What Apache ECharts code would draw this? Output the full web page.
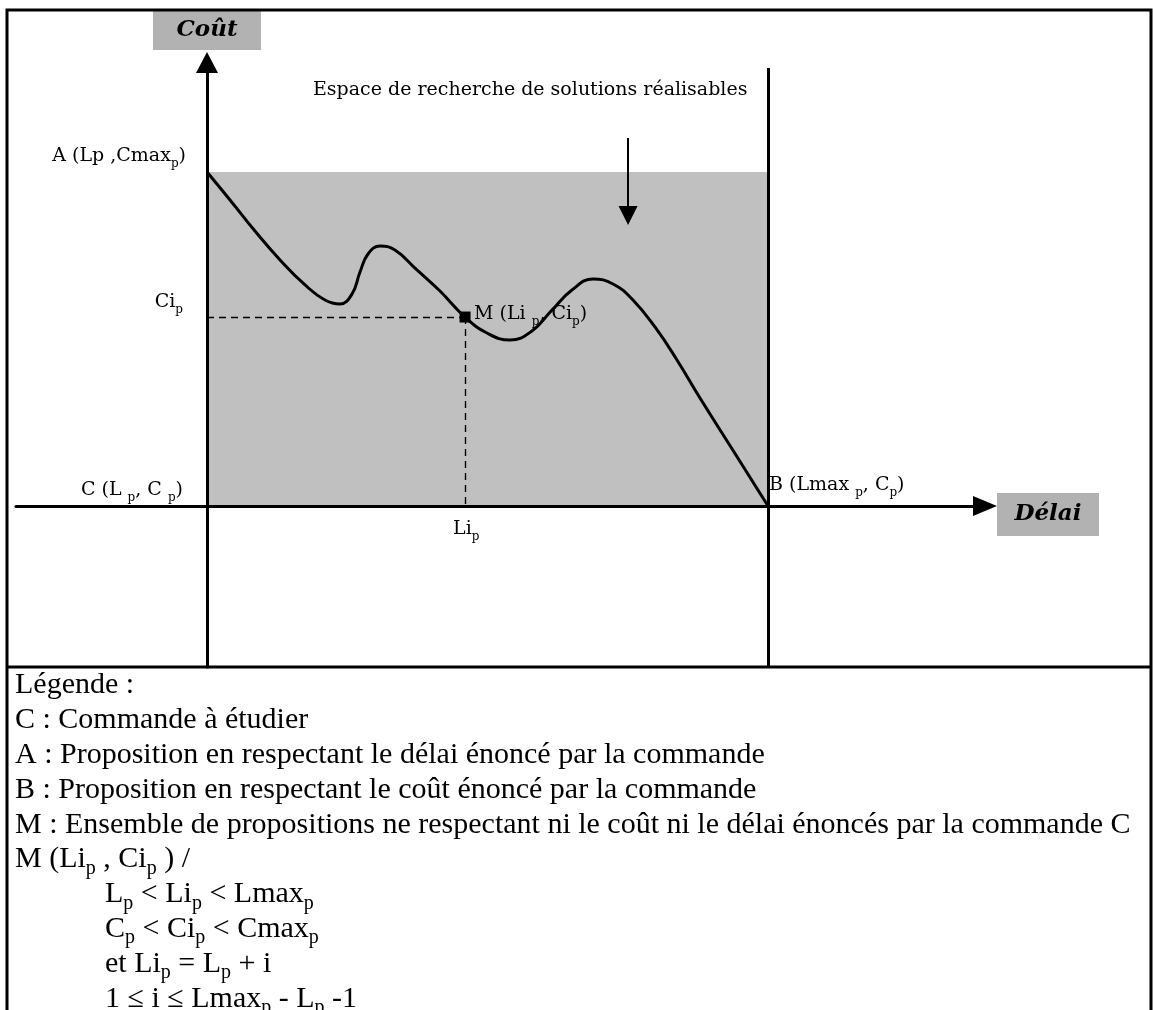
<!DOCTYPE html>
<html><head><meta charset="utf-8">
<script src="https://cdn.jsdelivr.net/npm/echarts@6/dist/echarts.min.js"></script>
<style>html,body{margin:0;padding:0;background:#fff}#c{width:1153px;height:1010px}</style>
</head><body><div id="c"></div>
<script>
// ---------- data ----------
const Lp = 0, Lmax = 40;          // délai : L_p .. Lmax_p
const Cp = 0, Cmax = 40;          // coût  : C_p .. Cmax_p
const Li = 18.4, Ci = 22.63;      // point M (Li_p, Ci_p)
const curveX = [0, 1.64, 3.42, 5.21, 6.99, 8.41, 9.48, 10.34, 10.91, 11.48, 12.34, 13.40, 14.83, 16.61, 18.4, 19.96, 21.60, 23.17, 24.60, 26.02, 27.52, 28.95, 30.37, 31.94, 33.51, 35.15, 37.58, 40];
const curveY = [40, 36.65, 32.93, 29.46, 26.47, 24.67, 24.19, 25.39, 28.02, 30.18, 31.14, 30.66, 28.50, 25.75, 22.63, 20.72, 19.88, 20.96, 23.47, 25.87, 27.19, 26.59, 24.67, 21.44, 17.49, 12.93, 6.47, 0];
const pointNames = ['A', 'B', 'C', 'M', 'Ci', 'Li'];
const pointX = [Lp, Lmax, Lp, Li, Lp, Li];
const pointY = [Cmax, Cp, Cp, Ci, Ci, Cp];
const pointTexts = ['A (Lp ,Cmax_p)', 'B (Lmax _p, C_p)', 'C (L _p, C _p)', 'M (Li _p, Ci_p)', 'Ci_p', 'Li_p'];
const axisNames = ['Délai', 'Coût'];
const noteText = 'Espace de recherche de solutions réalisables';
const legendLines = [
  'Légende :',
  'C : Commande à étudier',
  'A : Proposition en respectant le délai énoncé par la commande',
  'B : Proposition en respectant le coût énoncé par la commande',
  'M : Ensemble de propositions ne respectant ni le coût ni le délai énoncés par la commande C',
  'M (Li_p , Ci_p ) /',
  'L_p < Li_p < Lmax_p',
  'C_p < Ci_p < Cmax_p',
  'et Li_p = L_p + i',
  '1 ≤ i ≤ Lmax_p - L_p -1'
];
const legendIndent = [0, 0, 0, 0, 0, 0, 1, 1, 1, 1];

// ---------- layout ----------
const X_MIN = -13.619, X_MAX = 55.472, Y_MIN = -19.281, Y_MAX = 53.114;
const LINE_END_X = 56.4, LINE_TOP_Y = 52.45;
const NOTE_ARROW = [[30.02, 44.07], [30.02, 34.79]];

function toRich(s, m, sub) {
  return s.split(/_(p)/).map((t, i) => i % 2 ? '{' + sub + '|' + t + '}' : (t ? '{' + m + '|' + t + '}' : '')).join('');
}

const labelFont = 'DejaVu Serif';
const labRich = {
  m: {fontFamily: labelFont, fontSize: 19, lineHeight: 28, color: '#000', textBorderWidth: 0, opacity: 1},
  s: {fontFamily: labelFont, fontSize: 12, lineHeight: 12, padding: [16, 0, 0, 0], color: '#000', textBorderWidth: 0, opacity: 1}
};
const labelPlace = {
  A: {position: [-21, -30], align: 'right'},
  B: {position: [1, -35], align: 'left'},
  C: {position: [-24, -30], align: 'right'},
  M: {position: [9, -17], align: 'left'},
  Ci: {position: [-24, -29], align: 'right'},
  Li: {position: [-12, 9], align: 'left'}
};

const legFont = '"Liberation Serif","Times New Roman",serif';
const legRich = {
  m: {fontFamily: legFont, fontSize: 30, lineHeight: 39, color: '#000'},
  s: {fontFamily: legFont, fontSize: 20, lineHeight: 21, padding: [18, 0, 0, 0], color: '#000'}
};
const legTop0 = 666, legStep = 34.8;

const graphics = [
  {type: 'rect', z: 100, shape: {x: 7, y: 10, width: 1144, height: 1020}, style: {fill: 'none', stroke: '#000', lineWidth: 3}},
  {type: 'line', z: 100, shape: {x1: 7, y1: 667, x2: 1151, y2: 667}, style: {stroke: '#000', lineWidth: 3}},
  {type: 'text', z: 50, x: 313, y: 90, style: {text: noteText, font: '19px "DejaVu Serif"', fill: '#000', verticalAlign: 'middle', align: 'left'}}
];
legendLines.forEach((t, i) => {
  graphics.push({type: 'text', z: 50, x: legendIndent[i] ? 105 : 15, y: legTop0 + i * legStep,
    style: {text: toRich(t, 'm', 's'), rich: legRich, verticalAlign: 'top', align: 'left'}});
});

const boxStyle = {backgroundColor: '#b2b2b2', fontFamily: 'DejaVu Serif', fontSize: 23, fontWeight: 'bold', fontStyle: 'italic', color: '#000', align: 'center'};

const option = {
  animation: false,
  backgroundColor: '#fff',
  grid: {left: 16, right: 168, top: 62.5, bottom: 343, containLabel: false},
  xAxis: {
    type: 'value', min: X_MIN, max: X_MAX, z: 5,
    axisLine: {onZero: true, lineStyle: {color: '#000', width: 3}, symbol: ['none', 'triangle'], symbolSize: [20, 24]},
    axisTick: {show: false}, axisLabel: {show: false}, splitLine: {show: false},
    name: '{b|' + axisNames[0] + '}', nameLocation: 'end', nameGap: 12,
    nameTextStyle: {padding: [17, 0, 0, 0], rich: {b: Object.assign({width: 102, height: 43, lineHeight: 43}, boxStyle)}}
  },
  yAxis: {
    type: 'value', min: Y_MIN, max: Y_MAX, z: 5,
    axisLine: {onZero: true, lineStyle: {color: '#000', width: 3}, symbol: ['none', 'triangle'], symbolSize: [22, 21]},
    axisTick: {show: false}, axisLabel: {show: false}, splitLine: {show: false},
    name: '{b|' + axisNames[1] + '}', nameLocation: 'end', nameGap: 12.5,
    nameTextStyle: {rich: {b: Object.assign({width: 108, height: 39, lineHeight: 39}, boxStyle)}}
  },
  graphic: graphics,
  series: [
    {
      type: 'line', z: 1, data: [], silent: true,
      markArea: {silent: true, itemStyle: {color: '#c0c0c0', opacity: 1}, label: {show: false},
        data: [[{coord: [Lp, Cp]}, {coord: [Lmax, Cmax]}]]}
    },
    {
      type: 'line', z: 2, silent: true, clip: false,
      data: curveX.map((x, i) => [x, curveY[i]]),
      smooth: 0.45, showSymbol: false, symbol: 'none',
      lineStyle: {color: '#000', width: 3},
      markLine: {
        silent: true, symbol: ['none', 'none'], label: {show: false}, animation: false,
        data: [
          [{coord: [X_MIN, Cmax], lineStyle: {type: 'solid', width: 3, color: '#000'}}, {coord: [LINE_END_X, Cmax]}],
          [{coord: [Lmax, Y_MIN], lineStyle: {type: 'solid', width: 3, color: '#000'}}, {coord: [Lmax, LINE_TOP_Y]}],
          [{coord: [Lp, Ci], lineStyle: {type: [7, 5], width: 1.4, color: '#000'}}, {coord: [Li, Ci]}],
          [{coord: [Li, Ci], lineStyle: {type: [7, 5], width: 1.4, color: '#000'}}, {coord: [Li, Cp]}]
        ]
      }
    },
    {
      type: 'line', z: 3, silent: true, clip: false, data: [],
      markLine: {
        silent: true, symbol: ['none', 'triangle'], symbolSize: 19, label: {show: false},
        lineStyle: {type: 'solid', width: 2, color: '#000'},
        data: [[{coord: NOTE_ARROW[0]}, {coord: NOTE_ARROW[1]}]]
      }
    },
    {
      type: 'scatter', z: 4, silent: true, clip: false,
      data: [[Li, Ci]], symbol: 'rect', symbolSize: 11, itemStyle: {color: '#000', opacity: 1}
    },
    {
      type: 'scatter', z: 6, silent: true, clip: false, symbolSize: 0,
      itemStyle: {opacity: 1},
      data: pointNames.map((n, i) => ({
        name: n, value: [pointX[i], pointY[i]],
        label: Object.assign({show: true, verticalAlign: 'top', color: '#000', opacity: 1, textBorderWidth: 0, textBorderColor: 'transparent',
          formatter: toRich(pointTexts[i], 'm', 's'), rich: labRich}, labelPlace[n])
      }))
    }
  ]
};
const chart = echarts.init(document.getElementById('c'), null, {renderer: 'canvas'});
chart.setOption(option);
</script>
</body></html>
